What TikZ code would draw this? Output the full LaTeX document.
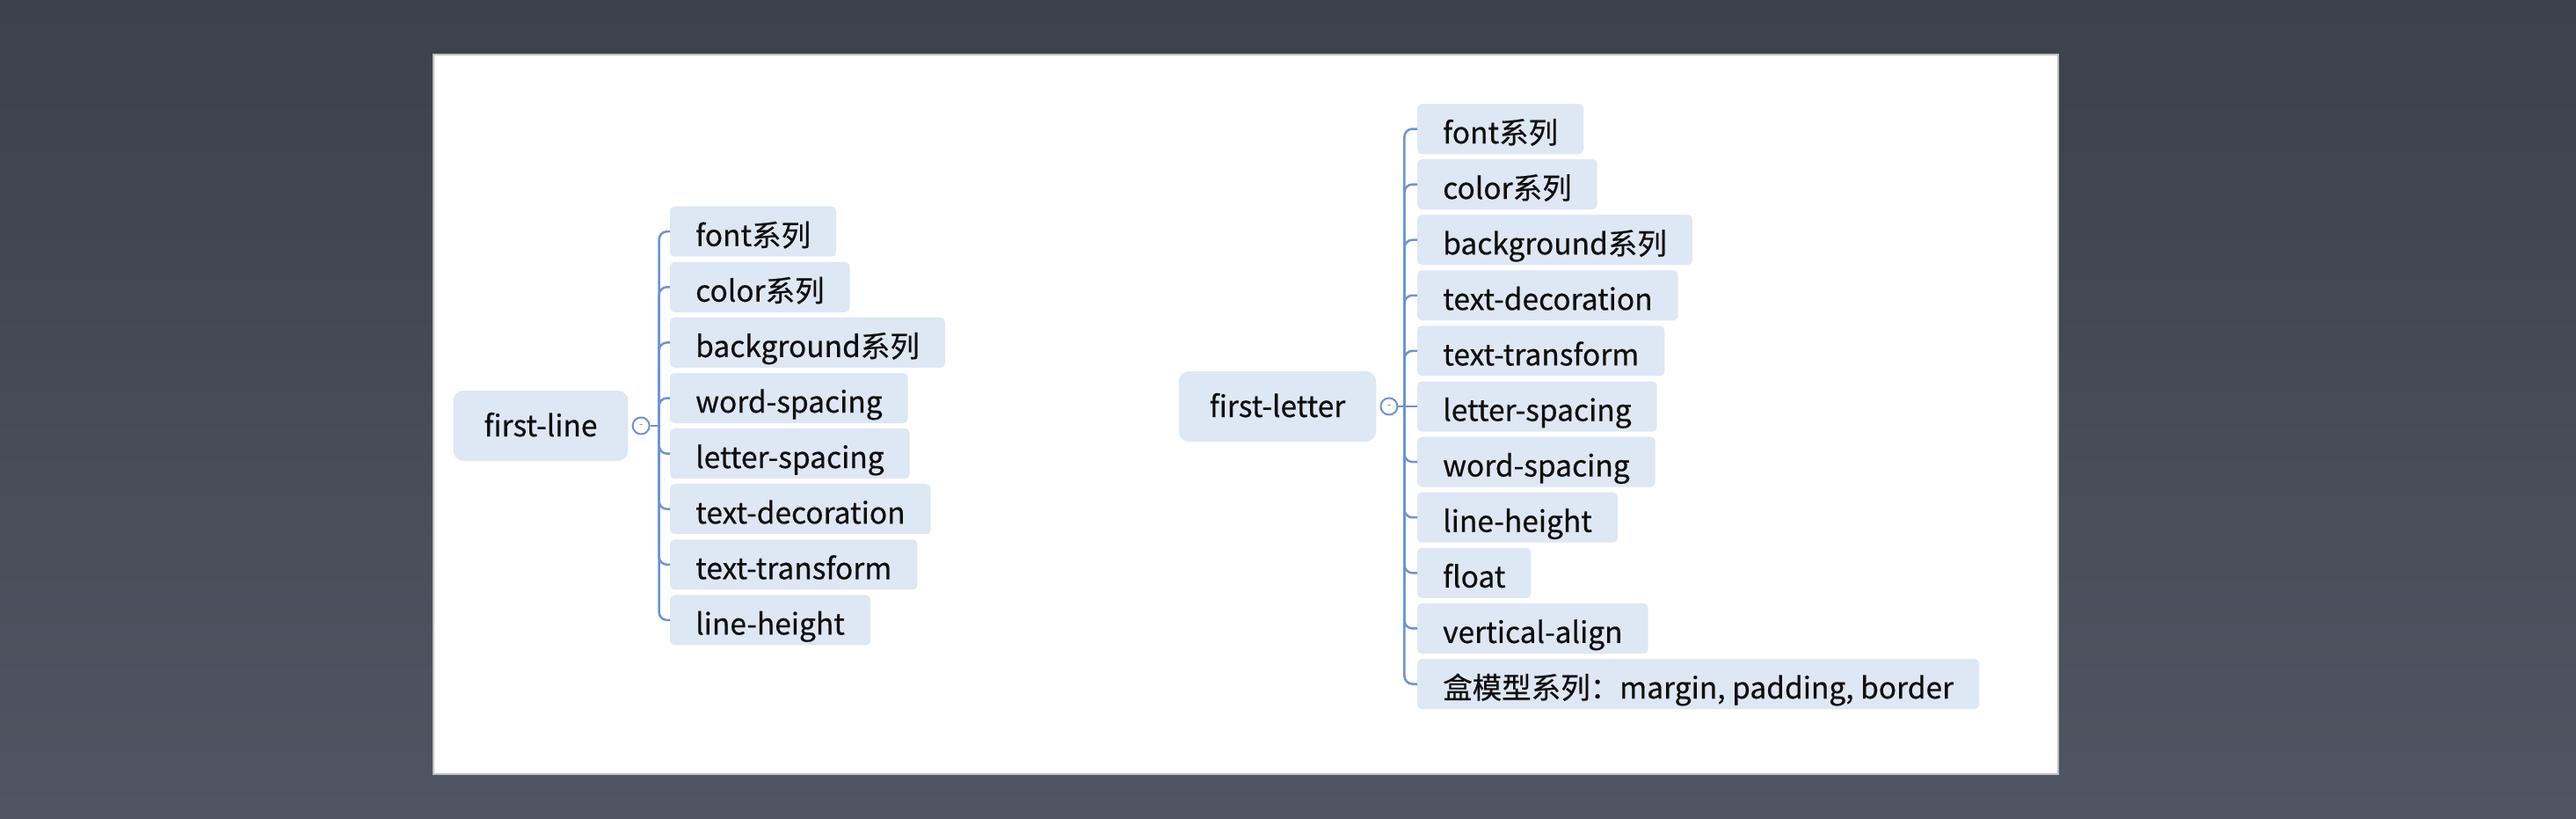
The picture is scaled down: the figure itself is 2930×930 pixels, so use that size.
\documentclass[tikz,border=0pt]{standalone}
\usepackage{fontspec}
\setmainfont{Noto Sans CJK SC}[FakeBold=0.5]
\usetikzlibrary{positioning}
\definecolor{slateTop}{RGB}{60,65,75}
\definecolor{slateBottom}{RGB}{79,86,99}
\definecolor{topicFill}{RGB}{222,231,244}
\definecolor{branchBlue}{RGB}{110,148,206}
\definecolor{inkColor}{RGB}{15,15,15}

\tikzset{
  rootbox/.style={fill=topicFill, rounded corners=12pt, minimum height=80pt, inner xsep=35pt, inner ysep=0pt, text height=33pt, text depth=9pt, text=inkColor, font=\fontsize{33.5}{38}\selectfont},
  leafbox/.style={fill=topicFill, rounded corners=5pt, minimum height=57pt, inner xsep=29pt, inner ysep=0pt, text height=41pt, text depth=8pt, anchor=west, text=inkColor, font=\fontsize{33.5}{38}\selectfont},
  foldmark/.style={circle, draw=branchBlue, fill=white, line width=2pt, minimum size=19pt, inner sep=0pt, text=black!40, font=\fontsize{12}{12}\selectfont},
  link/.style={draw=branchBlue, line width=2.5pt, rounded corners=9pt}
}

\begin{document}
\begin{tikzpicture}[x=1pt, y=-1pt]
  % backdrop and sheet
  \shade[top color=slateTop, bottom color=slateBottom] (0,0) rectangle (2930,930);
  \useasboundingbox (0,0) rectangle (2930,930);
  \fill[white, draw=black!25, line width=1.5pt] (493,62) rectangle (2341,880);

  % first-line
  \node[rootbox] (firstLine) at (615,484) {first-line};
  \node[foldmark, right=4pt of firstLine] (lineFold) {-};
  \coordinate (lineHub) at ([xshift=10pt]lineFold.east);
  \node[leafbox] (lineFont) at (762,263.2) {font系列};
  \node[leafbox] (lineColor) at (762,326.3) {color系列};
  \node[leafbox] (lineBackground) at (762,389.4) {background系列};
  \node[leafbox] (lineWordSpacing) at (762,452.5) {word-spacing};
  \node[leafbox] (lineLetterSpacing) at (762,515.6) {letter-spacing};
  \node[leafbox] (lineDecoration) at (762,578.7) {text-decoration};
  \node[leafbox] (lineTransform) at (762,641.8) {text-transform};
  \node[leafbox] (lineHeight) at (762,704.9) {line-height};
  \draw[link] (lineFold) -- (lineHub);
  \draw[link] (lineHub) |- (lineFont.west);
  \draw[link] (lineHub) |- (lineColor.west);
  \draw[link] (lineHub) |- (lineBackground.west);
  \draw[link] (lineHub) |- (lineWordSpacing.west);
  \draw[link] (lineHub) |- (lineLetterSpacing.west);
  \draw[link] (lineHub) |- (lineDecoration.west);
  \draw[link] (lineHub) |- (lineTransform.west);
  \draw[link] (lineHub) |- (lineHeight.west);

  % first-letter
  \node[rootbox] (firstLetter) at (1453,462) {first-letter};
  \node[foldmark, right=4pt of firstLetter] (letterFold) {-};
  \coordinate (letterHub) at ([xshift=7pt]letterFold.east);
  \node[leafbox] (letterFont) at (1612,146.5) {font系列};
  \node[leafbox] (letterColor) at (1612,209.6) {color系列};
  \node[leafbox] (letterBackground) at (1612,272.7) {background系列};
  \node[leafbox] (letterDecoration) at (1612,335.8) {text-decoration};
  \node[leafbox] (letterTransform) at (1612,398.9) {text-transform};
  \node[leafbox] (letterLetterSpacing) at (1612,462) {letter-spacing};
  \node[leafbox] (letterWordSpacing) at (1612,525.1) {word-spacing};
  \node[leafbox] (letterHeight) at (1612,588.2) {line-height};
  \node[leafbox] (letterFloat) at (1612,651.3) {float};
  \node[leafbox] (letterAlign) at (1612,714.4) {vertical-align};
  \node[leafbox] (letterBox) at (1612,777.5) {盒模型系列：margin, padding, border};
  \draw[link] (letterFold) -- (letterHub);
  \draw[link] (letterHub) |- (letterFont.west);
  \draw[link] (letterHub) |- (letterColor.west);
  \draw[link] (letterHub) |- (letterBackground.west);
  \draw[link] (letterHub) |- (letterDecoration.west);
  \draw[link] (letterHub) |- (letterTransform.west);
  \draw[link] (letterHub) -- (letterLetterSpacing.west);
  \draw[link] (letterHub) |- (letterWordSpacing.west);
  \draw[link] (letterHub) |- (letterHeight.west);
  \draw[link] (letterHub) |- (letterFloat.west);
  \draw[link] (letterHub) |- (letterAlign.west);
  \draw[link] (letterHub) |- (letterBox.west);
\end{tikzpicture}
\end{document}
